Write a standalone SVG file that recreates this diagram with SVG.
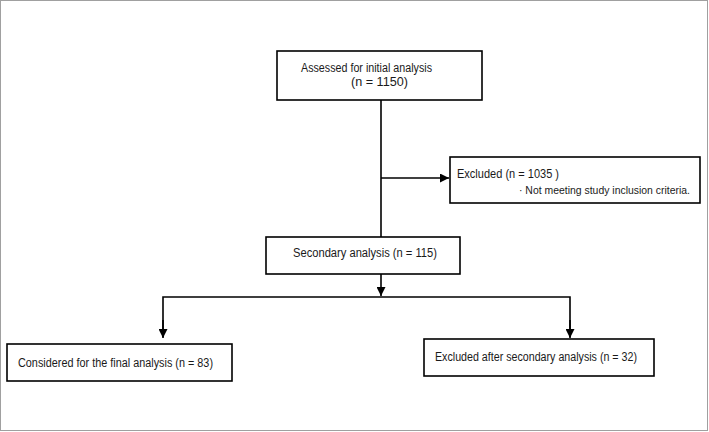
<svg xmlns="http://www.w3.org/2000/svg" width="709" height="432" viewBox="0 0 709 432">
<defs>
<style>
.box{fill:#fff;stroke:#000;stroke-width:1.6}
.t{font-family:"Liberation Sans","DejaVu Sans",sans-serif;font-size:12px;fill:#1a1a1a}
.s{font-size:10.8px}
.ln{stroke:#000;stroke-width:1.6;fill:none}
</style>
<marker id="ah2" viewBox="0 0 10 10" refX="10" refY="5" markerWidth="9" markerHeight="9" markerUnits="userSpaceOnUse" orient="auto"><path d="M0,0 L10,5 L0,10 Z" fill="#000"/></marker>
</defs>
<rect x="0.5" y="0.5" width="707" height="430" fill="#fff" stroke="#a0a0a0" stroke-width="1"/>
<g id="connectors">
<line class="ln" x1="381" y1="100" x2="381" y2="237"/>
<line class="ln" x1="381" y1="178" x2="449" y2="178" marker-end="url(#ah2)"/>
<line class="ln" x1="381" y1="274" x2="381" y2="296" marker-end="url(#ah2)"/>
<polyline class="ln" points="163,337 163,297 570,297 570,337"/>
<line class="ln" x1="163" y1="320" x2="163" y2="338" marker-end="url(#ah2)"/>
<line class="ln" x1="570" y1="320" x2="570" y2="338" marker-end="url(#ah2)"/>
</g>
<g id="n1">
<rect class="box" x="277" y="51" width="205" height="49"/>
<text class="t" x="301" y="72" textLength="131" lengthAdjust="spacingAndGlyphs">Assessed for initial analysis</text>
<text class="t" x="351" y="86" textLength="57" lengthAdjust="spacingAndGlyphs">(n  =  1150)</text>
</g>
<g id="n2">
<rect class="box" x="450" y="157" width="250" height="46"/>
<text class="t" x="457" y="178" textLength="102" lengthAdjust="spacingAndGlyphs">Excluded (n = 1035 )</text>
<text class="t s" x="519" y="194" textLength="171" lengthAdjust="spacingAndGlyphs">· Not meeting study inclusion criteria.</text>
</g>
<g id="n3">
<rect class="box" x="266" y="237" width="194" height="37"/>
<text class="t" x="293" y="257" textLength="144" lengthAdjust="spacingAndGlyphs">Secondary analysis  (n = 115)</text>
</g>
<g id="n4">
<rect class="box" x="7" y="344" width="225" height="37"/>
<text class="t" x="18" y="367" textLength="195" lengthAdjust="spacingAndGlyphs">Considered for the final analysis (n = 83)</text>
</g>
<g id="n5">
<rect class="box" x="424" y="339" width="230" height="37"/>
<text class="t" x="435" y="361" textLength="202" lengthAdjust="spacingAndGlyphs">Excluded after secondary analysis (n = 32)</text>
</g>
</svg>
